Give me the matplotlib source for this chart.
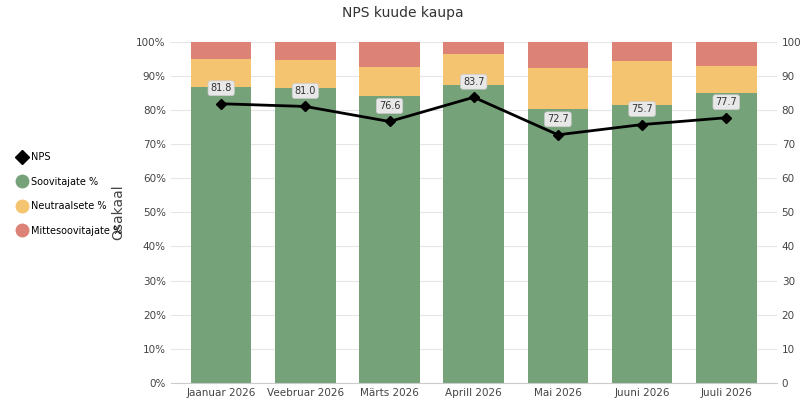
import matplotlib
matplotlib.use("Agg")
import matplotlib.pyplot as plt
from matplotlib.lines import Line2D

months = ["Jaanuar 2026","Veebruar 2026","Märts 2026","Aprill 2026","Mai 2026","Juuni 2026","Juuli 2026"]
promoters = [86.8, 86.4, 84.0, 87.2, 80.3, 81.3, 84.9]
neutrals = [8.2, 8.2, 8.6, 9.3, 12.1, 13.1, 7.9]
detractors = [5.0, 5.4, 7.4, 3.5, 7.6, 5.6, 7.2]
nps = [81.8, 81.0, 76.6, 83.7, 72.7, 75.7, 77.7]

fig = plt.figure(figsize=(8.05, 4.04), dpi=100)
ax = fig.add_axes([0.212, 0.052, 0.753, 0.845])
x = range(len(months))
c_g, c_y, c_r = "#76a27a", "#f4c470", "#dc8276"
ax.bar(x, promoters, 0.72, color=c_g)
ax.bar(x, neutrals, 0.72, bottom=promoters, color=c_y)
ax.bar(x, detractors, 0.72, bottom=[p+n for p, n in zip(promoters, neutrals)], color=c_r)
ax.set_ylim(0, 100)
ax.set_xlim(-0.6, len(months)-0.4)
ax.set_yticks(range(0, 101, 10))
ax.set_yticklabels([f"{v}%" for v in range(0, 101, 10)])
ax.set_xticks(list(x))
ax.set_xticklabels(months)
ax.grid(axis="y", color="#e6e6e6", lw=0.8)
ax.set_axisbelow(True)
for s in ["top", "right", "left"]:
    ax.spines[s].set_visible(False)
ax.spines["bottom"].set_color("#cccccc")
ax.tick_params(labelsize=7.5, colors="#444444", length=0)
ax.set_ylabel("Osakaal", fontsize=10, color="#444444", labelpad=8)

ax2 = ax.twinx()
ax2.set_ylim(0, 100)
ax2.set_yticks(range(0, 101, 10))
ax2.tick_params(labelsize=7.5, colors="#444444", length=0)
for s in ax2.spines.values():
    s.set_visible(False)
ax2.plot(list(x), nps, color="black", lw=2, marker="D", ms=5)
for xi, v in zip(x, nps):
    ax2.annotate(f"{v:.1f}", (xi, v), xytext=(0, 9), textcoords="offset points",
                 ha="center", fontsize=7, color="#333333",
                 bbox=dict(boxstyle="round,pad=0.25", fc="#e8e8e8", ec="#cccccc", lw=0.5))

fig.suptitle("NPS kuude kaupa", fontsize=10, color="#333333", y=0.985)
handles = [Line2D([], [], color="black", marker="D", ls="none", ms=7),
           Line2D([], [], color=c_g, marker="o", ls="none", ms=9),
           Line2D([], [], color=c_y, marker="o", ls="none", ms=9),
           Line2D([], [], color=c_r, marker="o", ls="none", ms=9)]
fig.legend(handles, ["NPS", "Soovitajate %", "Neutraalsete %", "Mittesoovitajate %"],
           loc="center left", bbox_to_anchor=(0.012, 0.52), frameon=False,
           fontsize=7, handlelength=0.8, labelspacing=1.5, handletextpad=0.5)
fig.savefig("out.png")
